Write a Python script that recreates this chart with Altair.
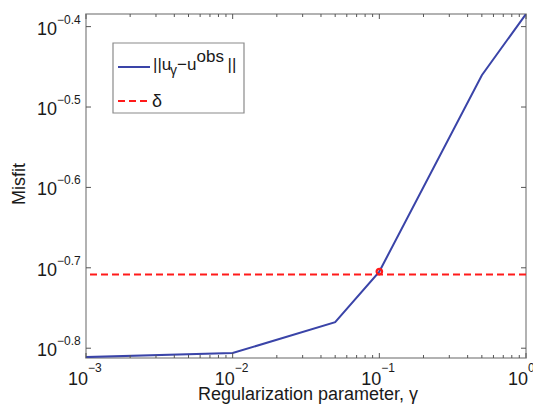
import altair as alt
import pandas as pd

# ---- data ----
gamma = [0.001, 0.01, 0.05, 0.1, 0.5, 1.0]
misfit = [0.1545, 0.1563, 0.1708, 0.1974, 0.3464, 0.4128]
delta = 0.1957
chosen_gamma = [0.1]
chosen_misfit = [0.1974]

x_major = [0.001, 0.01, 0.1, 1.0]
x_major_exp = ["\u22123", "\u22122", "\u22121", "0"]
x_minor = [0.002, 0.003, 0.004, 0.005, 0.006, 0.007, 0.008, 0.009,
           0.02, 0.03, 0.04, 0.05, 0.06, 0.07, 0.08, 0.09,
           0.2, 0.3, 0.4, 0.5, 0.6, 0.7, 0.8, 0.9]
y_major = [0.15849, 0.19953, 0.25119, 0.31623, 0.39811]
y_major_exp = ["\u22120.8", "\u22120.7", "\u22120.6", "\u22120.5", "\u22120.4"]

x_domain = [0.001, 1.0]
y_domain = [0.15411, 0.41276]

W, H = 440, 344
FONT = "Liberation Sans"
BLUE = "#3a44a8"
RED = "#ff1a1a"
TICK = "#555555"
TXT = "#1a1a1a"

curve = pd.DataFrame({"gamma": gamma, "misfit": misfit})
pt = pd.DataFrame({"gamma": chosen_gamma, "misfit": chosen_misfit})
dl = pd.DataFrame({"misfit": [delta]})
xmaj = pd.DataFrame({"x": x_major, "exp": x_major_exp})
xmin = pd.DataFrame({"x": x_minor})
ymaj = pd.DataFrame({"y": y_major, "exp": y_major_exp})
one = pd.DataFrame({"k": [0]})

xs = alt.Scale(type="log", domain=x_domain, nice=False)
ys = alt.Scale(type="log", domain=y_domain, nice=False, zero=False)
X = lambda f: alt.X(f, type="quantitative", scale=xs, axis=None)
Y = lambda f: alt.Y(f, type="quantitative", scale=ys, axis=None)

delta_line = alt.Chart(dl).mark_rule(color=RED, strokeWidth=2, strokeDash=[7, 4]).encode(y=Y("misfit"))
line = alt.Chart(curve).mark_line(color=BLUE, strokeWidth=2, clip=True).encode(x=X("gamma"), y=Y("misfit"))
point = alt.Chart(pt).mark_point(shape="circle", filled=False, color=RED, strokeWidth=2.2, size=30, opacity=1).encode(
    x=X("gamma"), y=Y("misfit"))

# ticks (inward, MATLAB style)
xt_bot = alt.Chart(xmaj).mark_rule(color=TICK, strokeWidth=1).encode(x=X("x"), y=alt.value(H), y2=alt.value(H - 5))
xt_top = alt.Chart(xmaj).mark_rule(color=TICK, strokeWidth=1).encode(x=X("x"), y=alt.value(0), y2=alt.value(5))
xm_bot = alt.Chart(xmin).mark_rule(color=TICK, strokeWidth=1).encode(x=X("x"), y=alt.value(H), y2=alt.value(H - 3))
xm_top = alt.Chart(xmin).mark_rule(color=TICK, strokeWidth=1).encode(x=X("x"), y=alt.value(0), y2=alt.value(3))
yt_l = alt.Chart(ymaj).mark_rule(color=TICK, strokeWidth=1).encode(y=Y("y"), x=alt.value(0), x2=alt.value(5))
yt_r = alt.Chart(ymaj).mark_rule(color=TICK, strokeWidth=1).encode(y=Y("y"), x=alt.value(W), x2=alt.value(W - 5))

# tick labels: "10" with superscript exponent
xl_base = alt.Chart(xmaj).mark_text(text="10", font=FONT, fontSize=18, align="right", baseline="alphabetic",
                                    dx=2, color=TXT).encode(x=X("x"), y=alt.value(H + 27))
xl_exp = alt.Chart(xmaj).mark_text(font=FONT, fontSize=12, align="left", baseline="alphabetic",
                                   dx=2, color=TXT).encode(x=X("x"), y=alt.value(H + 14), text="exp:N")
yl_base = alt.Chart(ymaj).mark_text(text="10", font=FONT, fontSize=18, align="right", baseline="alphabetic",
                                    dy=8, color=TXT).encode(y=Y("y"), x=alt.value(-29))
yl_exp = alt.Chart(ymaj).mark_text(font=FONT, fontSize=12, align="left", baseline="alphabetic",
                                   dy=-3, color=TXT).encode(y=Y("y"), x=alt.value(-29), text="exp:N")

# axis titles
xtitle = alt.Chart(one).mark_text(text="Regularization parameter, \u03b3", font=FONT, fontSize=18,
                                  align="center", baseline="alphabetic", color=TXT).encode(
    x=alt.value(W / 2 + 2), y=alt.value(H + 42))
ytitle = alt.Chart(one).mark_text(text="Misfit", font=FONT, fontSize=18, angle=270, align="center",
                                  baseline="alphabetic", color=TXT).encode(
    x=alt.value(-61), y=alt.value(H / 2 - 2))

# legend (drawn by hand to allow sub/superscripts)
lg_box = alt.Chart(one).mark_rect(fill="white", stroke="#8a8a8a", strokeWidth=1.2).encode(
    x=alt.value(27), x2=alt.value(158), y=alt.value(29), y2=alt.value(99))
lg_blue = alt.Chart(one).mark_rule(color=BLUE, strokeWidth=2).encode(
    x=alt.value(32), x2=alt.value(64), y=alt.value(53))
lg_red = alt.Chart(one).mark_rule(color=RED, strokeWidth=2, strokeDash=[7, 4]).encode(
    x=alt.value(32), x2=alt.value(64), y=alt.value(87))


def lt(txt, x, y, size):
    return alt.Chart(one).mark_text(text=txt, font=FONT, fontSize=size, align="left", baseline="alphabetic",
                                    color=TXT).encode(x=alt.value(x), y=alt.value(y))


legend = [lg_box, lg_blue, lg_red,
          lt("||u", 67, 56, 17), lt("\u03b3", 84, 61, 14), lt("\u2212u", 91, 56, 17),
          lt("obs", 110.5, 47.5, 17), lt("||", 141.5, 56, 17), lt("\u03b4", 66, 93, 18)]

chart = alt.layer(
    delta_line, line, point,
    xt_bot, xt_top, xm_bot, xm_top, yt_l, yt_r,
    xl_base, xl_exp, yl_base, yl_exp, xtitle, ytitle,
    *legend
).properties(
    width=W, height=H,
    autosize=alt.AutoSizeParams(type="none"),
    padding={"left": 78, "top": 6, "right": 7, "bottom": 46},
).configure_view(stroke="#999999", strokeWidth=1.5)

chart.save("out.html", embed_options={"renderer": "svg", "actions": False})
